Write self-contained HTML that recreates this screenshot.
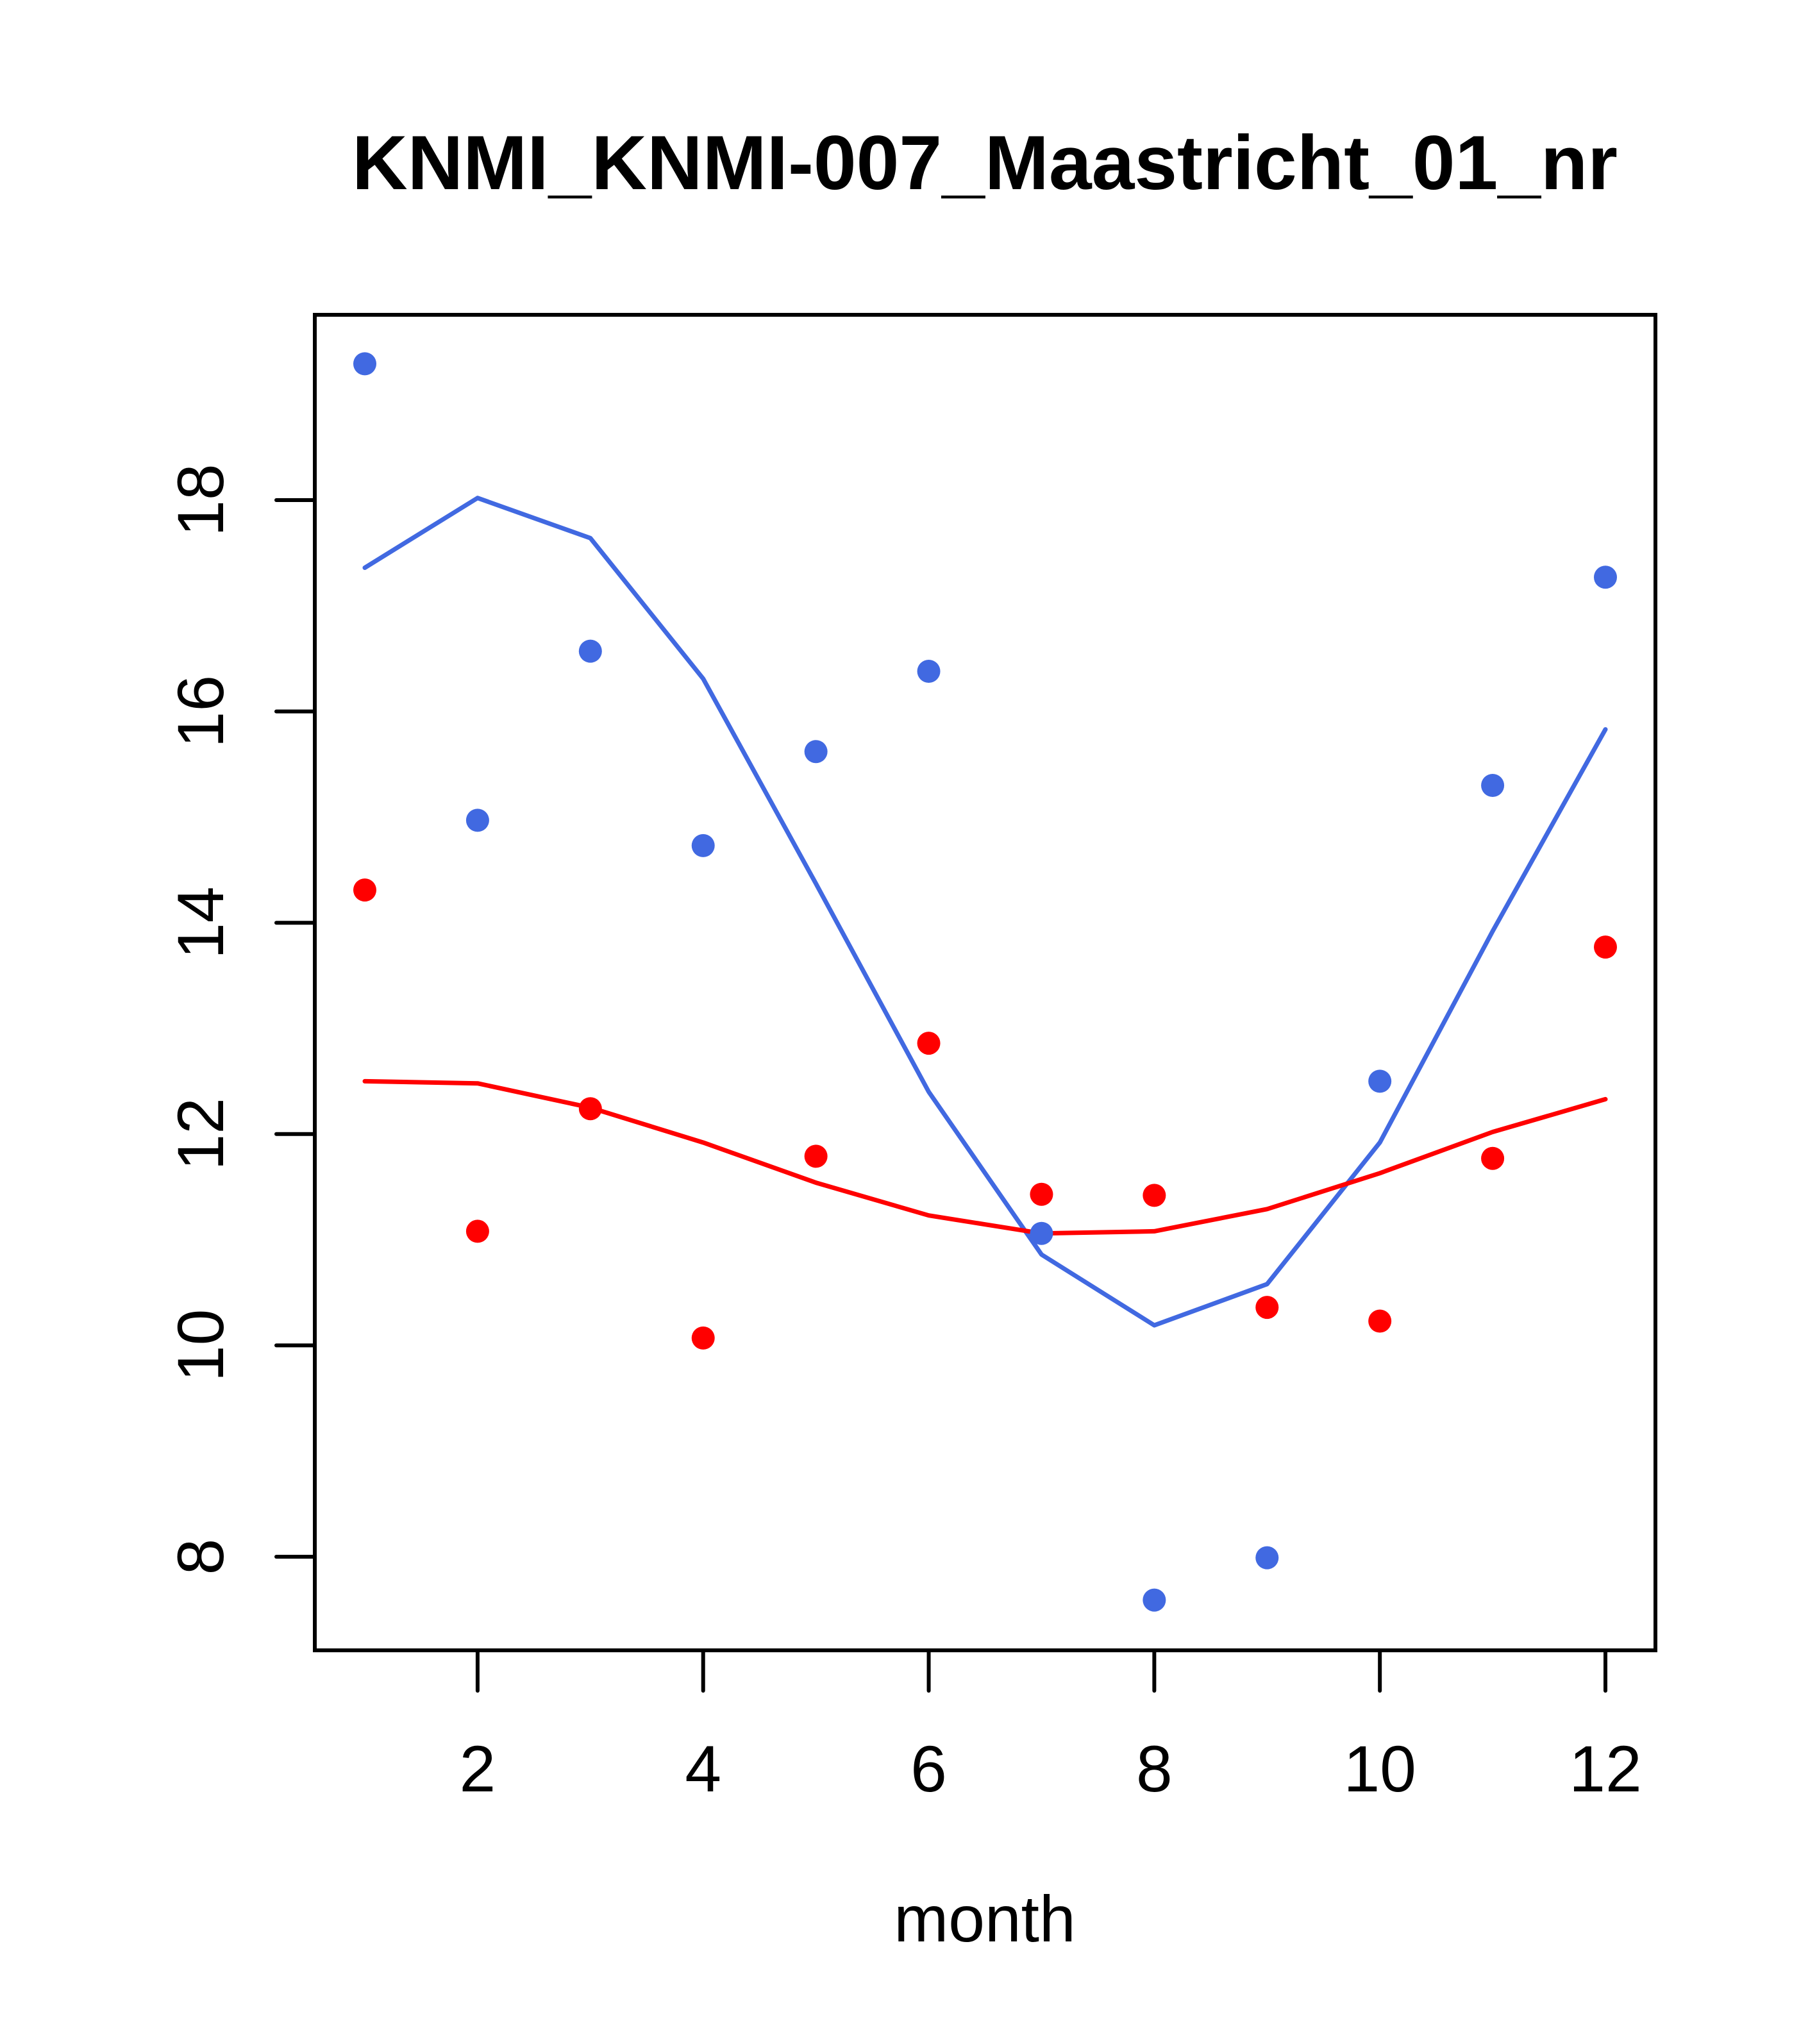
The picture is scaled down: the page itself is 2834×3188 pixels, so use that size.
<!DOCTYPE html>
<html><head><meta charset="utf-8"><style>html,body{margin:0;padding:0;background:#fff}svg{display:block}</style></head>
<body>
<svg id="chart" width="2834" height="3188" xmlns="http://www.w3.org/2000/svg" font-family="Liberation Sans, Arial, sans-serif">
<rect width="2834" height="3188" fill="#fff"/>
<text x="1536" y="295" font-size="120" font-weight="bold" text-anchor="middle">KNMI_KNMI-007_Maastricht_01_nr</text>
<g id="plot"></g>
</svg>
<script>
const months = [1,2,3,4,5,6,7,8,9,10,11,12];
const bluePoints = [19.29,14.97,16.57,14.73,15.62,16.38,11.06,7.59,7.99,12.50,15.30,17.27];
const blueLine = [17.36,18.02,17.64,16.31,14.37,12.40,10.86,10.19,10.58,11.92,13.92,15.83];
const redPoints = [14.31,11.08,12.24,10.07,11.79,12.86,11.43,11.42,10.36,10.23,11.77,13.77];
const redLine = [12.50,12.48,12.25,11.92,11.54,11.23,11.06,11.08,11.29,11.63,12.02,12.33];
const xTicks = [2,4,6,8,10,12];
const yTicks = [8,10,12,14,16,18];

const X = m => 569 + (m-1)*(2504-569)/11;
const Y = v => 780 + (18-v)*(2428-780)/10;
const NS = "http://www.w3.org/2000/svg";
const g = document.getElementById('plot');
function el(tag, attrs){const e=document.createElementNS(NS,tag);for(const k in attrs)e.setAttribute(k,attrs[k]);g.appendChild(e);return e;}

function line(vals,color,name){
  const p = el('polyline',{points:vals.map((v,i)=>X(months[i])+','+Y(v)).join(' '),fill:'none',stroke:color,'stroke-width':7,'stroke-linejoin':'round','stroke-linecap':'round'});
  
  
}
function points(vals,color,name){
  vals.forEach((v,i)=>{
    const c = el('circle',{cx:X(months[i]),cy:Y(v),r:18,fill:color});
    
    
  });
}
line(blueLine,'#4169e1','blue-line');
line(redLine,'#ff0000','red-line');
points(bluePoints,'#4169e1','blue-point');
points(redPoints,'#ff0000','red-point');

const box = el('rect',{x:491,y:491,width:2582-491,height:2574-491,fill:'none',stroke:'#000','stroke-width':6});



xTicks.forEach(t=>{
  const tk = el('line',{x1:X(t),x2:X(t),y1:2574,y2:2637,stroke:'#000','stroke-width':6,'stroke-linecap':'round'});
  
  
  const tx = el('text',{x:X(t),y:2794,'font-size':102,'text-anchor':'middle'});
  tx.textContent = t;
  
  
});
yTicks.forEach(t=>{
  const tk = el('line',{x1:431,x2:491,y1:Y(t),y2:Y(t),stroke:'#000','stroke-width':6,'stroke-linecap':'round'});
  
  
  const tx = el('text',{x:0,y:0,'font-size':102,'text-anchor':'middle',transform:'translate(348,'+Y(t)+') rotate(-90)'});
  tx.textContent = t;
  
  
});
const xl = el('text',{x:1536,y:3028,'font-size':102,'text-anchor':'middle'});
xl.textContent = 'month';


</script>
</body></html>
